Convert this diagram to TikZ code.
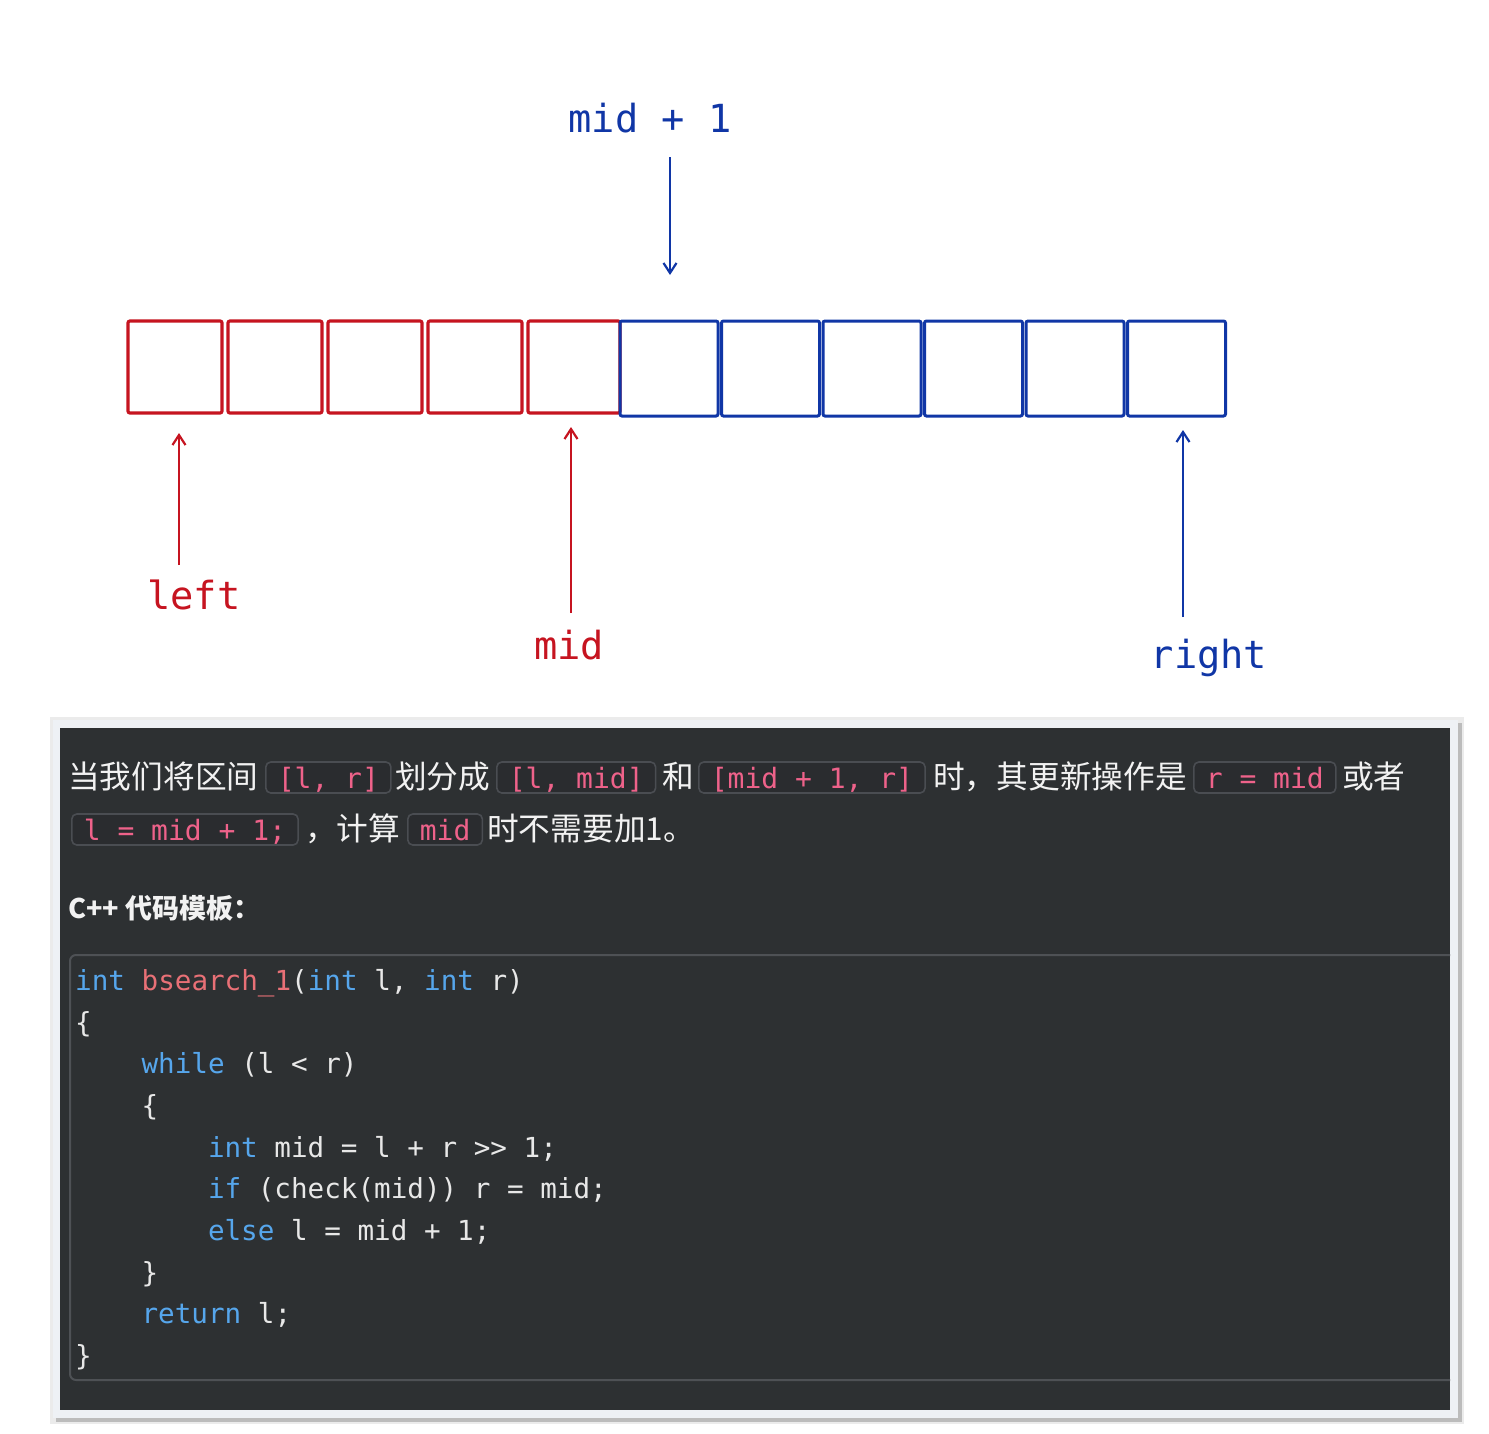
\documentclass[tikz,border=0pt]{standalone}
\usepackage{fontspec}
\setmainfont{DejaVu Sans}
\newfontfamily\cjk{Noto Sans CJK SC}
\newfontfamily\mono{DejaVu Sans Mono}
\usetikzlibrary{arrows.meta}
\definecolor{myred}{RGB}{198,20,32}
\definecolor{myblue}{RGB}{16,54,166}
\definecolor{panelbg}{RGB}{45,48,50}
\definecolor{framecol}{RGB}{238,241,245}
\definecolor{zhtext}{RGB}{242,242,242}
\definecolor{icpink}{RGB}{238,98,138}
\definecolor{icborder}{RGB}{74,77,82}
\definecolor{icfill}{RGB}{42,44,47}
\definecolor{codetext}{RGB}{232,232,232}
\definecolor{kw}{RGB}{86,166,236}
\definecolor{fn}{RGB}{232,112,118}
\definecolor{cbborder}{RGB}{78,81,85}
\newcommand{\kwd}[1]{\textcolor{kw}{#1}}
\newcommand{\fnm}[1]{\textcolor{fn}{#1}}
\tikzset{
  redbox/.style={draw=myred, line width=3.2pt, rounded corners=2pt, minimum height=92pt, inner sep=0pt},
  bluebox/.style={draw=myblue, line width=3pt, rounded corners=2pt, minimum height=95pt, minimum width=98pt, inner sep=0pt},
  lbl/.style={font=\mono\fontsize{38.7}{40}\selectfont, anchor=base, inner sep=0pt},
  arr/.style={line width=2.4pt, -{Straight Barb[length=10pt,width=13pt,line width=2.2pt]}},
  zh/.style={font=\cjk\fontsize{31.7}{36}\selectfont, text=zhtext, anchor=base west, inner sep=0pt},
  ic/.style={font=\mono\fontsize{28}{30}\selectfont, text=icpink, draw=icborder, fill=icfill, line width=1.6pt, rounded corners=5pt, anchor=base west, inner xsep=12pt, inner ysep=0pt, text height=26pt, text depth=5pt},
  codeln/.style={font=\mono\fontsize{27.6}{30}\selectfont, text=codetext, anchor=base west, inner sep=0pt},
}
\begin{document}
\begin{tikzpicture}[x=1pt,y=-1pt]
\useasboundingbox (0,0) rectangle (1489,1433);
\fill[white] (0,0) rectangle (1489,1433);
% ---- array boxes ----
\foreach \i in {0,...,3} {
  \node[redbox, minimum width=94pt] (r\i) at ({175+100*\i},367) {};
}
\node[redbox, minimum width=92pt] (r4) at (574,367) {};
\foreach \i in {0,...,5} {
  \node[bluebox] (b\i) at ({669+101.5*\i},368.5) {};
}
% ---- labels and arrows ----
\node[lbl, text=myblue] (lmid1) at (650,132) {mid + 1};
\node[lbl, text=myred] (lleft) at (194,609) {left};
\node[lbl, text=myred] (lmid) at (569,659) {mid};
\node[lbl, text=myblue] (lright) at (1209,668) {right};
\coordinate (m1s) at (670,157);  \coordinate (m1e) at (670,275);
\coordinate (ls) at (179,565);   \coordinate (le) at (179,433);
\coordinate (ms) at (571,613);   \coordinate (me) at (571,427);
\coordinate (rs) at (1183,617);  \coordinate (re) at (1183,430);
\draw[arr, myblue] (m1s) -- (m1e);
\draw[arr, myred] (ls) -- (le);
\draw[arr, myred] (ms) -- (me);
\draw[arr, myblue] (rs) -- (re);
% ---- screenshot panel ----
\fill[black, opacity=0.08] (50,717) rectangle (1464,1424);
\fill[black, opacity=0.20] (56,723) rectangle (1462,1422);
\fill[framecol] (53,720) rectangle (1458,1418);
\fill[panelbg] (60,728) rectangle (1450,1410);
% paragraph line 1
\node[zh] (t1) at (68,788) {当我们将区间};
\node[ic] (c1) at (265,788) {[l, r]};
\node[zh] (t2) at (395,788) {划分成};
\node[ic] (c2) at (496,788) {[l, mid]};
\node[zh] (t3) at (662,788) {和};
\node[ic] (c3) at (698,788) {[mid + 1, r]};
\node[zh] (t4) at (933,788) {时，其更新操作是};
\node[ic] (c4) at (1193,788) {r = mid};
\node[zh] (t5) at (1342,788) {或者};
% paragraph line 2
\node[ic] (c5) at (71,840) {l = mid + 1;};
\node[zh] (t6) at (305,840) {，计算};
\node[ic] (c6) at (407,840) {mid};
\node[zh] (t7) at (487,840) {时不需要加1。};
% heading
\node[zh, font=\cjk\bfseries\fontsize{27}{30}\selectfont] (hd) at (68,918) {C++ 代码模板：};
% code block
\draw[cbborder, line width=2pt, rounded corners=6pt] (1450,955) -- (70,955) -- (70,1380) -- (1450,1380);
\node[codeln] (k1) at (75,990) {\kwd{int} \fnm{bsearch\_1}(\kwd{int} l, \kwd{int} r)};
\node[codeln] (k2) at (75,1032) {\{};
\node[codeln] (k3) at (141.4,1073) {\kwd{while} (l < r)};
\node[codeln] (k4) at (141.4,1115) {\{};
\node[codeln] (k5) at (207.8,1157) {\kwd{int} mid = l + r >> 1;};
\node[codeln] (k6) at (207.8,1198) {\kwd{if} (check(mid)) r = mid;};
\node[codeln] (k7) at (207.8,1240) {\kwd{else} l = mid + 1;};
\node[codeln] (k8) at (141.4,1282) {\}};
\node[codeln] (k9) at (141.4,1323) {\kwd{return} l;};
\node[codeln] (k10) at (75,1365) {\}};
\end{tikzpicture}
\end{document}
